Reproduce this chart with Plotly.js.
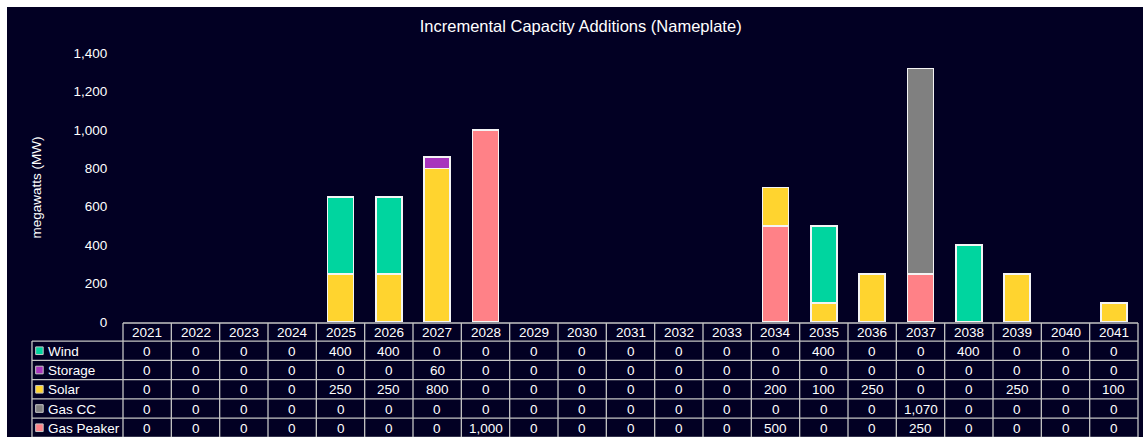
<!DOCTYPE html>
<html>
<head>
<meta charset="utf-8">
<script src="https://cdn.plot.ly/plotly-3.0.1.min.js"></script>
<style>
html,body{margin:0;padding:0;background:#ffffff;width:1143px;height:439px;overflow:hidden;}
#chart{position:absolute;left:7px;top:7px;width:1136px;height:430px;}
</style>
</head>
<body>
<div id="chart"></div>
<script>
// ---- data ----
var years = ['2021','2022','2023','2024','2025','2026','2027','2028','2029','2030','2031','2032','2033','2034','2035','2036','2037','2038','2039','2040','2041'];
var wind      = [0,0,0,0,400,400,0,0,0,0,0,0,0,0,400,0,0,400,0,0,0];
var storage   = [0,0,0,0,0,0,60,0,0,0,0,0,0,0,0,0,0,0,0,0,0];
var solar     = [0,0,0,0,250,250,800,0,0,0,0,0,0,200,100,250,0,0,250,0,100];
var gasCC     = [0,0,0,0,0,0,0,0,0,0,0,0,0,0,0,0,1070,0,0,0,0];
var gasPeaker = [0,0,0,0,0,0,0,1000,0,0,0,0,0,500,0,0,250,0,0,0,0];
var seriesNames = ['Wind','Storage','Solar','Gas CC','Gas Peaker'];
var seriesColors = ['#00D59F','#A834BD','#FFD42F','#808080','#FF8187'];
var seriesValues = [wind, storage, solar, gasCC, gasPeaker];
var chartTitle = 'Incremental Capacity Additions (Nameplate)';
var yTitle = 'megawatts (MW)';
var yTickVals = [0,200,400,600,800,1000,1200,1400];

// ---- geometry (px inside the chart div) ----
var DIVW = 1136, DIVH = 430;
var M = {l: 116.3, r: 5, t: 46.4, b: 115.3};
var W = DIVW - M.l - M.r, H = DIVH - M.t - M.b;
var BG = '#020023';
var GRID = '#C4C4C4';
var FONT = 'Liberation Sans, Arial, sans-serif';
function px2x(p){ return p / W; }          // px from plot left -> paper x
function px2y(p){ return -p / H; }         // px below plot bottom -> paper y
var rowEdges = [1, 19, 38.3, 57.5, 76.7, 95.9, 115]; // header top, then row boundaries (px below plot bottom)
var labelLeft = px2x(-91);

// ---- bar traces (stack bottom -> top) ----
var traces = [];
for (var s = seriesNames.length - 1; s >= 0; s--) {
  traces.push({
    type: 'bar',
    name: seriesNames[s],
    x: years,
    y: seriesValues[s].map(function(v){ return v === 0 ? null : v; }),
    marker: {color: seriesColors[s], line: {color: '#F4F4F4', width: 1.5}},
    showlegend: false,
    hoverinfo: 'skip'
  });
}

// ---- table built from the same arrays ----
var shapes = [];
var annotations = [];
var nCol = years.length;
var LW = 1.3;
function fmt(v){ return v.toLocaleString('en-US'); }
// horizontal lines
shapes.push({type:'line', xref:'paper', yref:'paper', x0:0, x1:1, y0:px2y(rowEdges[0]), y1:px2y(rowEdges[0]), line:{color:GRID, width:LW}});
for (var r = 1; r < rowEdges.length; r++) {
  shapes.push({type:'line', xref:'paper', yref:'paper', x0:labelLeft, x1:1, y0:px2y(rowEdges[r]), y1:px2y(rowEdges[r]), line:{color:GRID, width:LW}});
}
// vertical lines
for (var c = 0; c <= nCol; c++) {
  shapes.push({type:'line', xref:'paper', yref:'paper', x0:c/nCol, x1:c/nCol, y0:px2y(rowEdges[0]), y1:px2y(rowEdges[rowEdges.length-1]), line:{color:GRID, width:LW}});
}
shapes.push({type:'line', xref:'paper', yref:'paper', x0:labelLeft, x1:labelLeft, y0:px2y(rowEdges[1]), y1:px2y(rowEdges[rowEdges.length-1]), line:{color:GRID, width:LW}});
// header texts
for (var c2 = 0; c2 < nCol; c2++) {
  annotations.push({xref:'paper', yref:'paper', x:(c2+0.5)/nCol, y:px2y((rowEdges[0]+rowEdges[1])/2 + 0.5),
    text: years[c2], showarrow:false, xanchor:'center', yanchor:'middle', font:{family:FONT, size:13.5, color:'#FFFFFF'}});
}
// rows
for (var s2 = 0; s2 < seriesNames.length; s2++) {
  var yc = (rowEdges[s2+1] + rowEdges[s2+2]) / 2;
  shapes.push({type:'rect', xref:'paper', yref:'paper', x0:px2x(-87.3), x1:px2x(-79.8), y0:px2y(yc-3.8), y1:px2y(yc+3.8),
    fillcolor: seriesColors[s2], line:{color:'#C8C8C8', width:1}});
  annotations.push({xref:'paper', yref:'paper', x:px2x(-77), y:px2y(yc+0.5), text: seriesNames[s2], showarrow:false,
    xanchor:'left', yanchor:'middle', font:{family:FONT, size:13.5, color:'#FFFFFF'}});
  for (var c3 = 0; c3 < nCol; c3++) {
    annotations.push({xref:'paper', yref:'paper', x:(c3+0.5)/nCol, y:px2y(yc+0.5), text: fmt(seriesValues[s2][c3]), showarrow:false,
      xanchor:'center', yanchor:'middle', font:{family:FONT, size:13.5, color:'#FFFFFF'}});
  }
}

var layout = {
  width: DIVW, height: DIVH,
  margin: M,
  paper_bgcolor: BG,
  plot_bgcolor: BG,
  barmode: 'stack',
  bargap: 0.46,
  font: {family: FONT, size: 13, color: '#FFFFFF'},
  title: {text: chartTitle, font: {family: FONT, size: 16.5, color: '#FFFFFF'}, xref: 'container', x: 0.505, xanchor: 'center', yref: 'container', y: 1 - 19.7/DIVH, yanchor: 'middle'},
  xaxis: {type: 'category', range: [-0.5, nCol - 0.5], showticklabels: false, showgrid: false, zeroline: false, showline: false, ticks: ''},
  yaxis: {range: [0, 1400], tickvals: yTickVals, tickformat: ',d', showgrid: false, zeroline: false, showline: false,
    ticks: 'outside', ticklen: 12, tickcolor: BG, tickfont: {family: FONT, size: 13.5, color: '#FFFFFF'},
    title: {text: yTitle, standoff: 28, font: {family: FONT, size: 13.5, color: '#FFFFFF'}}},
  shapes: shapes,
  annotations: annotations,
  hovermode: false
};

Plotly.newPlot('chart', traces, layout, {staticPlot: true, displayModeBar: false});
</script>
</body>
</html>
